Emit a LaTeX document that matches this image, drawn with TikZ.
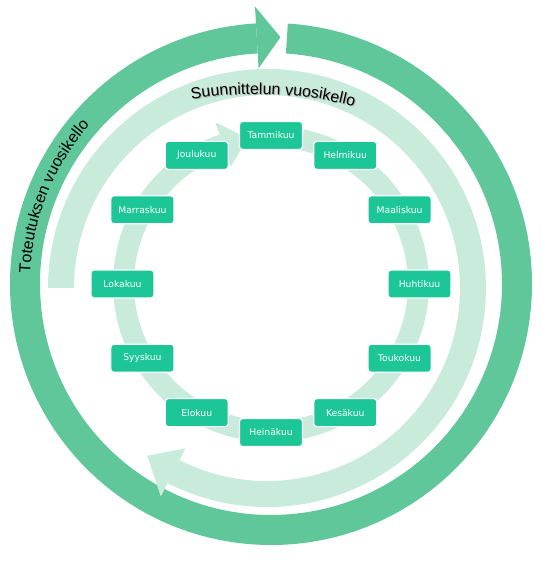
\documentclass[tikz,border=0pt]{standalone}
\usepackage{fontspec}
\newfontfamily\monthfont{DejaVu Sans}
\newfontfamily\ringfont{Liberation Sans}
\usetikzlibrary{decorations.text}
\definecolor{darkring}{RGB}{96,199,154}
\definecolor{lightring}{RGB}{200,235,220}
\definecolor{monthbox}{RGB}{28,198,150}

\begin{document}
\begin{tikzpicture}[x=1pt,y=1pt,
  month/.style={rectangle,rounded corners=3pt,fill=monthbox,draw=white,line width=1.2pt,
    minimum width=63pt,minimum height=28pt,text=white,font=\monthfont\fontsize{9.2}{11}\selectfont}]
  \useasboundingbox (-271,-282) rectangle (271,284);

  % Ulkokehä: toteutus
  \fill[darkring] (86.3:261) arc[start angle=86.3,end angle=-266.7,radius=261]
    -- (-266.7:231) arc[start angle=-266.7,end angle=86.3,radius=231] -- cycle;
  \fill[darkring] (93.3:216) -- (87.8:247) -- (93.3:278) -- cycle;

  % Keskikehä: suunnittelu
  \begin{scope}[shift={(-4,-4)}]
    \fill[lightring] (180:219) arc[start angle=180,end angle=-117,radius=219]
      -- (-117:193) arc[start angle=-117,end angle=180,radius=193] -- cycle;
    \fill[lightring] (-117:180) -- (-125.5:206) -- (-117:234) -- cycle;
  \end{scope}

  % Sisäkehä: kuukaudet
  \fill[lightring] (78:158) arc[start angle=78,end angle=-251,radius=158]
    -- (-251:137) arc[start angle=-251,end angle=78,radius=137] -- cycle;
  \fill[lightring] (-251:124) -- (-261:147.5) -- (-251:171) -- cycle;

  % Kehien tekstit
  \path[decorate,decoration={text along path,
      text={|\ringfont\fontsize{16}{19}\selectfont|Toteutuksen vuosikello}}]
    (177.5:241) arc[start angle=177.5,end angle=120,radius=241];
  \begin{scope}[shift={(-13,-191)}]
    \path[decorate,decoration={text along path,text color=black!30,
        text={|\ringfont\fontsize{16}{19}\selectfont|Suunnittelun vuosikello}}]
      (99.9:380) arc[start angle=99.9,end angle=60,radius=380];
  \end{scope}
  \begin{scope}[shift={(-14,-190)}]
    \path[decorate,decoration={text along path,
        text={|\ringfont\fontsize{16}{19}\selectfont|Suunnittelun vuosikello}}]
      (99.9:380) arc[start angle=99.9,end angle=60,radius=380];
  \end{scope}

  % Kuukaudet
  \foreach \name [count=\i] in {Tammikuu,Helmikuu,Maaliskuu,Huhtikuu,Toukokuu,Kesäkuu,
      Heinäkuu,Elokuu,Syyskuu,Lokakuu,Marraskuu,Joulukuu}
    \node[month] (m\i) at ({90-30*(\i-1)}:148.5) {\name};
\end{tikzpicture}
\end{document}
